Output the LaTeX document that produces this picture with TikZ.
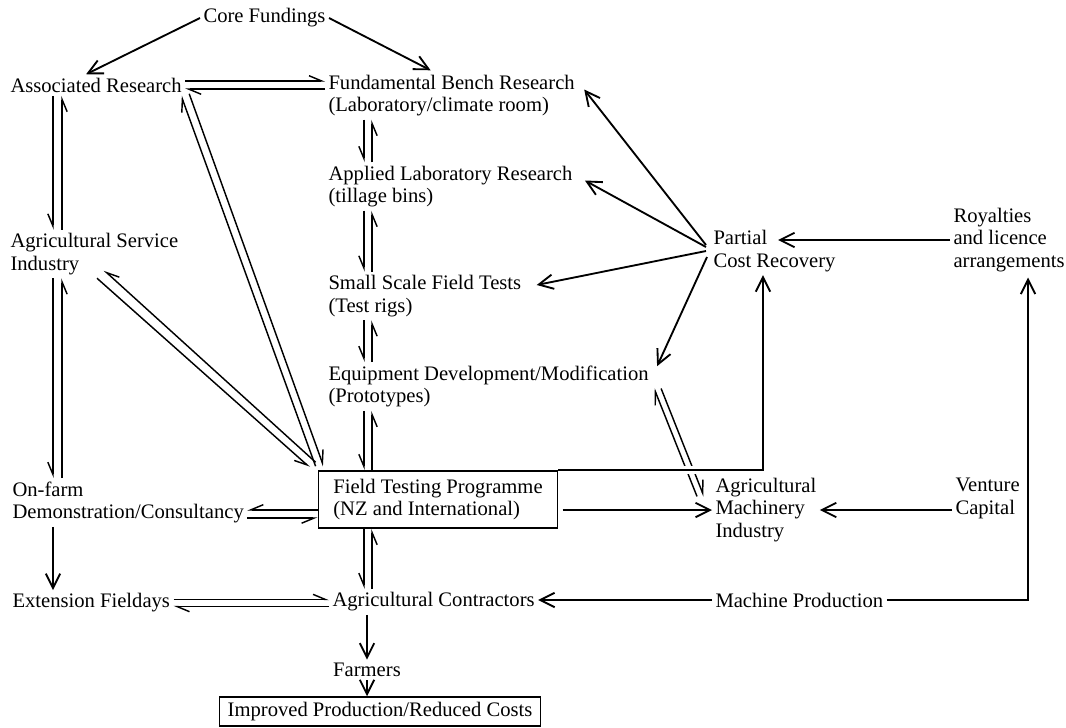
\documentclass[tikz,border=0pt]{standalone}
\usepackage{fontspec}
\setmainfont{Liberation Serif}
\usetikzlibrary{arrows.meta, calc}

\tikzset{
  lbl/.style={inner sep=1.5pt, align=left, font=\fontsize{10pt}{11pt}\selectfont},
  framed/.style={lbl, draw, line width=0.8pt},
  link/.style={draw, line width=0.9pt},
  one/.style={link, -{Straight Barb[length=7pt, width=7pt]}},
  hl/.style={draw, line width=0.7pt, -{Straight Barb[harpoon, length=6pt, width=5pt]}},
  hr/.style={draw, line width=0.7pt, -{Straight Barb[harpoon, swap, length=6pt, width=5pt]}}
}

\begin{document}
\begin{tikzpicture}[x=0.485pt, y=-0.485pt]
  \useasboundingbox (0,0) rectangle (1066,727);

  % research column
  \node [lbl, anchor=west] (core)    at (200,18)    {Core Fundings};
  \node [lbl, anchor=west] (assoc)   at (7,85)      {Associated Research};
  \node [lbl, anchor=west] (fund)    at (325,95.5)  {Fundamental Bench Research\\(Laboratory/climate room)};
  \node [lbl, anchor=west] (applied) at (325,186.5) {Applied Laboratory Research\\(tillage bins)};
  \node [lbl, anchor=west] (small)   at (325,296)   {Small Scale Field Tests\\(Test rigs)};
  \node [lbl, anchor=west] (equip)   at (325,386.5) {Equipment Development/Modification\\(Prototypes)};
  \node [framed, inner xsep=5pt, minimum width=116pt, minimum height=27.6pt] (field) at (438,499.5)
        {Field Testing Programme\\(NZ and International)};
  \node [lbl, anchor=west] (contr)   at (329,602)   {Agricultural Contractors};
  \node [lbl] (farmers) at (367,670) {Farmers};
  \node [framed, inner xsep=4pt, minimum height=14pt] (improved) at (380,711.5)
        {Improved Production/Reduced Costs};

  % left column
  \node [lbl, anchor=west] (agserv) at (7,254)   {Agricultural Service\\Industry};
  \node [lbl, anchor=west] (onfarm) at (9,502.5) {On-farm\\Demonstration/Consultancy};
  \node [lbl, anchor=west] (ext)    at (9,603)   {Extension Fieldays};

  % right side
  \node [lbl, anchor=west] (partial)  at (710,251)   {Partial\\Cost Recovery};
  \node [lbl, anchor=west] (royal)    at (950,240)   {Royalties\\and licence\\arrangements};
  \node [lbl, anchor=west] (agmach)   at (712,510)   {Agricultural\\Machinery\\Industry};
  \node [lbl, anchor=west] (venture)  at (952,498.5) {Venture\\Capital};
  \node [lbl, anchor=west] (machprod) at (712,600)   {Machine Production};

  \coordinate (cl) at (364,0);
  \coordinate (cr) at (372,0);
  \coordinate (ll) at (53,0);
  \coordinate (lr) at (62,0);

  % funding
  \path [one] (core.west) -- ($(assoc.north)+(-10,0)$);
  \path [one] (core.east) -- ($(fund.north)+(-21,-1)$);

  % two-way links
  \path [hl] ([yshift=2pt]assoc.east) -- ([yshift=2pt]assoc.east -| fund.west);
  \path [hl] ([yshift=-2pt]assoc.east -| fund.west) -- ([yshift=-2pt]assoc.east);
  \path [hr] (fund.south -| cl) -- (applied.north -| cl);
  \path [hr] (applied.north -| cr) -- (fund.south -| cr);
  \path [hr] (applied.south -| cl) -- (small.north -| cl);
  \path [hr] (small.north -| cr) -- (applied.south -| cr);
  \path [hr] (small.south -| cl) -- (equip.north -| cl);
  \path [hr] (equip.north -| cr) -- (small.south -| cr);
  \path [hr] (equip.south -| cl) -- (field.north -| cl);
  \path [hr] (field.north -| cr) -- (equip.south -| cr);
  \path [hr] (field.south -| cl) -- (contr.north -| cl);
  \path [hr] (contr.north -| cr) -- (field.south -| cr);
  \path [hr] (assoc.south -| ll) -- (agserv.north -| ll);
  \path [hr] (agserv.north -| lr) -- (assoc.south -| lr);
  \path [hr] (agserv.south -| ll) -- (onfarm.north -| ll);
  \path [hr] (onfarm.north -| lr) -- (agserv.south -| lr);
  \path [hl] ([yshift=1.7pt]ext.east) -- ([yshift=1.7pt]ext.east -| contr.west);
  \path [hl] ([yshift=-1.7pt]ext.east -| contr.west) -- ([yshift=-1.7pt]ext.east);
  \path [hr] ([yshift=-5pt]field.west) -- ([yshift=-5pt]field.west -| onfarm.east);
  \path [hr] ([yshift=-9pt]field.west -| onfarm.east) -- ([yshift=-9pt]field.west);
  \path [hl] ($(field.north west)+(-2,-4)$) -- ($(assoc.south east)+(-4,0)$);
  \path [hl] ($(assoc.south east)+(4,-2)$) -- ($(field.north west)+(6,-4)$);
  \path [hr] ($(field.north west)+(-2,-8)$) -- ($(agserv.south west)+(97,-8)$);
  \path [hr] ($(agserv.south west)+(90,0)$) -- ($(field.north west)+(-8,-3)$);
  \path [hl] ($(agmach.north west)+(-15,22)$) -- ($(equip.east)+(2,2)$);
  \path [hl] ($(equip.east)+(9,2)$) -- ($(agmach.north west)+(-8,22)$);

  % one-way links
  \path [one] (onfarm.south -| ll) -- (ext.north -| ll);
  \path [one] ($(partial.west)+(-4,-6)$) -- ($(fund.east)+(6,-6)$);
  \path [one] ($(partial.west)+(-4,-4)$) -- ($(applied.east)+(9,-6)$);
  \path [one] ($(partial.west)+(-4,0)$) -- ($(small.east)+(12,-11)$);
  \path [one] ($(partial.west)+(-3,6)$) -- ($(equip.north east)+(5,4)$);
  \path [one, shorten >=33pt] (royal.west) -- (royal.west -| partial.west);
  \path [one, preaction={draw=white, line width=4pt}] (field.north east) -| ($(partial.south west)+(53,0)$);
  \path [one, shorten <=2pt] (field.east |- agmach.west) -- (agmach.west);
  \path [one] (venture.west |- agmach.east) -- (agmach.east);
  \path [one] (machprod.west) -- (machprod.west -| contr.east);
  \path [one] (machprod.east) -| ($(royal.south)+(19,2)$);
  \path [one] (farmers.north |- contr.south) -- (farmers.north);
  \path [one] (farmers.south) -- (farmers.south |- improved.north);
\end{tikzpicture}
\end{document}
